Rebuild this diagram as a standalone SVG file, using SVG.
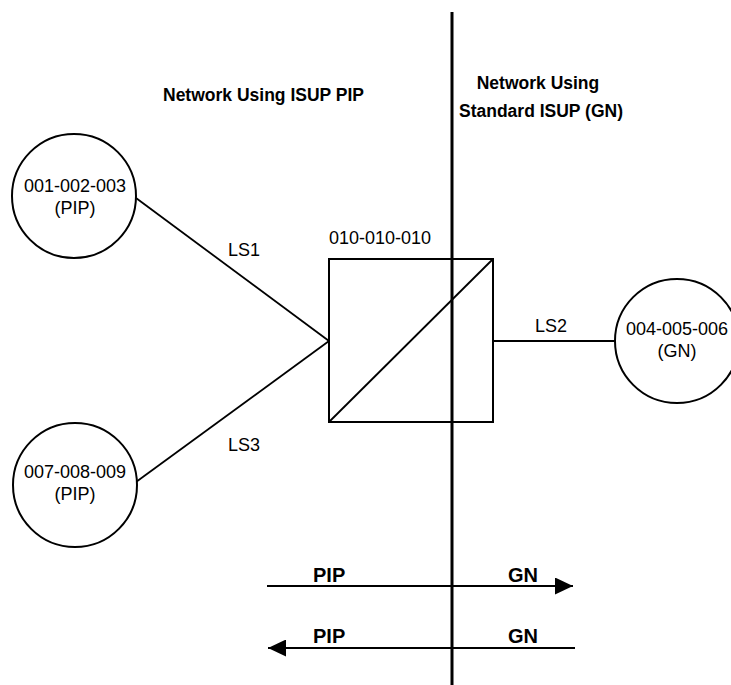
<svg xmlns="http://www.w3.org/2000/svg" width="731" height="685" viewBox="0 0 731 685">
<style>
.node{fill:#fff;stroke:#000;stroke-width:2}
.lbl{font-family:"Liberation Sans",Arial,sans-serif;font-size:18px;fill:#000}
.hdr{font-family:"Liberation Sans",Arial,sans-serif;font-size:17.5px;font-weight:bold;fill:#000}
.dir{font-family:"Liberation Sans",Arial,sans-serif;font-size:20px;font-weight:bold;fill:#000}
.ln{stroke:#000;stroke-width:1.8;fill:none}
</style>
<defs>
<marker id="ah" viewBox="0 0 18 17" refX="18" refY="8.5" markerWidth="18" markerHeight="17" markerUnits="userSpaceOnUse" orient="auto">
<path d="M0,0 L18,8.5 L0,17 Z" fill="#000"/>
</marker>
</defs>
<rect width="731" height="685" fill="#fff"/>
<g id="connectors">
<line class="ln" x1="136" y1="198" x2="329" y2="341"/>
<line class="ln" x1="136" y1="482" x2="329" y2="341"/>
<line class="ln" x1="493" y1="341" x2="615" y2="341"/>
<line class="ln" x1="267" y1="586" x2="573" y2="586" marker-end="url(#ah)"/>
<line class="ln" x1="575" y1="648" x2="268" y2="648" marker-end="url(#ah)"/>
</g>
<g id="headers">
<text class="hdr" x="163" y="101">Network Using ISUP PIP</text>
<text class="hdr" x="538" y="89" text-anchor="middle">Network Using</text>
<text class="hdr" x="541" y="117" text-anchor="middle">Standard ISUP (GN)</text>
</g>
<g id="n1">
<circle class="node" cx="74" cy="196" r="62"/>
<text class="lbl" x="75" y="192" text-anchor="middle">001-002-003</text>
<text class="lbl" x="75" y="214" text-anchor="middle">(PIP)</text>
</g>
<g id="n2">
<circle class="node" cx="75" cy="485" r="62"/>
<text class="lbl" x="75" y="478" text-anchor="middle">007-008-009</text>
<text class="lbl" x="75" y="500" text-anchor="middle">(PIP)</text>
</g>
<g id="n3">
<circle class="node" cx="677" cy="341" r="62"/>
<text class="lbl" x="677" y="335" text-anchor="middle">004-005-006</text>
<text class="lbl" x="677" y="357" text-anchor="middle">(GN)</text>
</g>
<g id="stp">
<rect class="node" x="329" y="259" width="164" height="163"/>
<line class="ln" x1="329" y1="422" x2="493" y2="259"/>
<text class="lbl" x="329" y="244">010-010-010</text>
</g>
<g id="linkLabels">
<text class="lbl" x="228" y="256" font-size="21">LS1</text>
<text class="lbl" x="535" y="332" font-size="21">LS2</text>
<text class="lbl" x="228" y="451" font-size="21">LS3</text>
</g>
<g id="divider">
<line x1="452" y1="12" x2="452" y2="685" stroke="#000" stroke-width="3"/>
</g>
<g id="dirLabels">
<text class="dir" x="313" y="582">PIP</text>
<text class="dir" x="508" y="582">GN</text>
<text class="dir" x="313" y="643">PIP</text>
<text class="dir" x="508" y="643">GN</text>
</g>
</svg>
